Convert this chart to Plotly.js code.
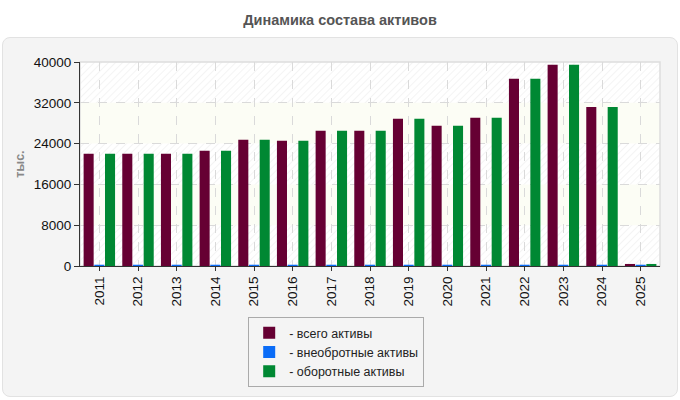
<!DOCTYPE html>
<html>
<head>
<meta charset="utf-8">
<script src="https://cdn.plot.ly/plotly-3.0.1.min.js"></script>
<style>
  html, body { margin: 0; padding: 0; background: #ffffff; }
  #wrap { position: relative; width: 680px; height: 400px; overflow: hidden; }
  #panel {
    position: absolute; left: 2px; top: 37px; width: 674px; height: 358px;
    background: #f4f4f4; border: 1px solid #e2e2e2; border-radius: 8px;
  }
  #chart { position: absolute; left: 0; top: 0; width: 680px; height: 400px; }
</style>
</head>
<body>
<div id="wrap">
  <div id="panel"></div>
  <div id="chart"></div>
</div>
<script>
// Годы и значения (тыс.)
const years = ['2011','2012','2013','2014','2015','2016','2017','2018','2019','2020','2021','2022','2023','2024','2025'];
const totalAssets   = [22000, 22000, 22000, 22600, 24750, 24550, 26500, 26500, 28850, 27500, 29050, 36700, 39450, 31200, 400];
const fixedAssets   = [250, 250, 250, 250, 250, 250, 250, 250, 250, 250, 250, 250, 250, 250, 250];
const currentAssets = [22000, 22000, 22000, 22600, 24750, 24550, 26500, 26500, 28850, 27500, 29050, 36700, 39450, 31200, 400];

const seriesNames = ['- всего активы', '- внеобротные активы', '- оборотные активы'];
const seriesColors = ['#660033', '#0a6cf7', '#008833'];
const yTicks = [0, 8000, 16000, 24000, 32000, 40000];

const FONT = 'Liberation Sans, Arial, sans-serif';

// Diagonal hatch texture for the plot area
const hatchSvg =
  '<svg xmlns="http://www.w3.org/2000/svg" width="580" height="204" viewBox="0 0 580 204">' +
  '<defs><pattern id="h" width="5" height="5" patternUnits="userSpaceOnUse" patternTransform="rotate(45)">' +
  '<rect width="5" height="5" fill="#ffffff"/><line x1="0" y1="0" x2="0" y2="5" stroke="#eeeeee" stroke-width="1.3"/>' +
  '</pattern></defs><rect width="580" height="204" fill="url(#h)"/></svg>';
const hatchSrc = 'data:image/svg+xml;charset=utf-8,' + encodeURIComponent(hatchSvg);

const values = [totalAssets, fixedAssets, currentAssets];
const traces = values.map((v, i) => ({
  type: 'bar',
  x: years,
  y: v,
  name: seriesNames[i],
  marker: { color: seriesColors[i], line: { width: 0 } },
  hoverinfo: 'x+y+name'
}));

// Soft cream bands between alternate gridlines
const bands = [[8000, 16000], [24000, 32000]].map(b => ({
  type: 'rect', xref: 'paper', yref: 'y', x0: 0, x1: 1, y0: b[0], y1: b[1],
  fillcolor: 'rgba(252,253,244,0.95)', line: { width: 0 }, layer: 'below'
}));

const frame = {
  type: 'rect', xref: 'paper', yref: 'paper', x0: 0, x1: 1, y0: 0, y1: 1,
  fillcolor: 'rgba(0,0,0,0)', line: { color: '#dddddd', width: 1.5 }, layer: 'below'
};

const layout = {
  width: 680, height: 400,
  margin: { l: 80, r: 20, t: 62, b: 134 },
  paper_bgcolor: 'rgba(0,0,0,0)',
  plot_bgcolor: '#ffffff',
  font: { family: FONT, size: 13, color: '#111111' },
  title: {
    text: '<b>Динамика состава активов</b>',
    font: { family: FONT, size: 14.5, color: '#555555' },
    x: 0.5, xref: 'container', xanchor: 'center',
    y: 0.95, yref: 'container', yanchor: 'middle'
  },
  barmode: 'group',
  bargap: 0.17,
  bargroupgap: 0.06,
  xaxis: {
    type: 'category',
    tickangle: -90,
    showline: true, linecolor: '#333333', linewidth: 1,
    ticks: 'outside', ticklen: 4, tickcolor: '#333333',
    showgrid: true, gridcolor: '#dadada', griddash: 'dash', gridwidth: 1,
    tickfont: { family: FONT, size: 13.5, color: '#111111' },
    zeroline: false, fixedrange: true
  },
  yaxis: {
    range: [0, 40000],
    tickvals: yTicks,
    ticktext: yTicks.map(String),
    showline: true, linecolor: '#333333', linewidth: 1,
    ticks: 'outside', ticklen: 5, tickcolor: '#333333',
    showgrid: true, gridcolor: '#dadada', griddash: 'dash', gridwidth: 1,
    zeroline: false,
    tickfont: { family: FONT, size: 13.5, color: '#111111' },
    title: { text: '<b>тыс.</b>', font: { family: FONT, size: 12.5, color: '#888888' }, standoff: 6 },
    fixedrange: true
  },
  showlegend: true,
  legend: {
    orientation: 'v',
    x: 0.29, xanchor: 'left',
    y: -0.25, yanchor: 'top',
    bgcolor: '#f4f4f4',
    bordercolor: '#aaaaaa', borderwidth: 1,
    font: { family: FONT, size: 12.5, color: '#222222' },
    tracegroupgap: 0,
    itemwidth: 30
  },
  images: [{
    source: hatchSrc, xref: 'paper', yref: 'paper',
    x: 0, y: 1, sizex: 1, sizey: 1, xanchor: 'left', yanchor: 'top',
    sizing: 'stretch', layer: 'below'
  }],
  shapes: bands.concat([frame])
};

Plotly.newPlot('chart', traces, layout, { displayModeBar: false, staticPlot: true });
</script>
</body>
</html>
